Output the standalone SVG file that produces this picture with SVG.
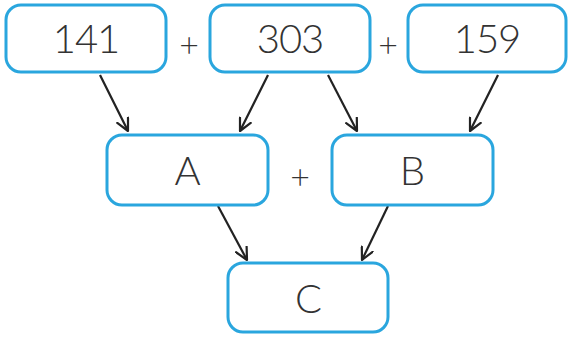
<svg xmlns="http://www.w3.org/2000/svg" width="569" height="344" viewBox="0 0 569 344">
<style>
.box{fill:#fff;stroke:#2aa6de;stroke-width:3}
.lbl{font-family:Lato,"Open Sans","Liberation Sans",sans-serif;font-weight:300;font-size:40px;fill:#333;text-anchor:middle;letter-spacing:-1px}
.plus{font-family:Lato,"Liberation Sans",sans-serif;font-weight:300;font-size:34px;fill:#333;text-anchor:middle}
.con{stroke:#222;stroke-width:2.2;fill:none;marker-end:url(#ah)}
</style>
<defs>
<marker id="ah" viewBox="0 0 14 14" refX="13" refY="7" markerWidth="14" markerHeight="14" markerUnits="userSpaceOnUse" orient="auto">
<path d="M1,1 L13,7 L1,13" fill="none" stroke="#222" stroke-width="2.2" stroke-linecap="round" stroke-linejoin="round"/>
</marker>
</defs>
<rect width="569" height="344" fill="#fff"/>
<g id="connectors">
<line class="con" x1="100" y1="75" x2="128" y2="131"/>
<line class="con" x1="268" y1="75" x2="240" y2="131"/>
<line class="con" x1="328" y1="75" x2="357" y2="131"/>
<line class="con" x1="498" y1="75" x2="470" y2="131"/>
<line class="con" x1="218" y1="206" x2="247" y2="260"/>
<line class="con" x1="388" y1="206" x2="362" y2="260"/>
</g>
<g id="n141"><rect class="box" x="6" y="5" width="160" height="67" rx="15"/><text class="lbl" x="86" y="53">141</text></g>
<g id="n303"><rect class="box" x="210" y="5" width="160" height="67" rx="15"/><text class="lbl" x="290" y="53">303</text></g>
<g id="n159"><rect class="box" x="408" y="5" width="158" height="67" rx="15"/><text class="lbl" x="487" y="53">159</text></g>
<g id="nA"><rect class="box" x="107" y="135" width="161" height="70" rx="15"/><text class="lbl" x="187" y="185">A</text></g>
<g id="nB"><rect class="box" x="332" y="135" width="161" height="70" rx="15"/><text class="lbl" x="412" y="185">B</text></g>
<g id="nC"><rect class="box" x="228" y="263" width="160" height="69" rx="15"/><text class="lbl" x="308" y="313">C</text></g>
<text class="plus" x="189" y="57">+</text>
<text class="plus" x="388" y="57">+</text>
<text class="plus" x="300" y="189">+</text>
</svg>
